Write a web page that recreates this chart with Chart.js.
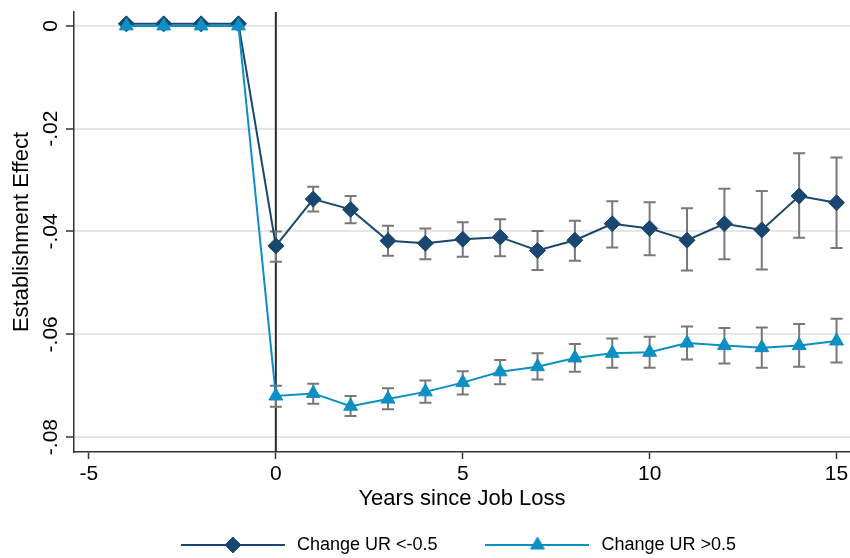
<!DOCTYPE html>
<html>
<head>
<meta charset="utf-8">
<script src="https://cdn.jsdelivr.net/npm/chart.js@4.4.1/dist/chart.umd.min.js"></script>
<style>
    html, body { margin: 0; padding: 0; background: #fff; }
    #wrap { width: 850px; height: 558px; position: relative; }
</style>
</head>
<body>
<div id="wrap"><canvas id="chart"></canvas></div>
<script>
// years since job loss
var years = [-4, -3, -2, -1, 0, 1, 2, 3, 4, 5, 6, 7, 8, 9, 10, 11, 12, 13, 14, 15];

// Change UR <-0.5 : estimate and 95% band
var lowEst = [0.0004, 0.0004, 0.0004, 0.0004, -0.0428, -0.0337, -0.0357, -0.0418, -0.0423, -0.0415,
    -0.0411, -0.0437, -0.0417, -0.0385, -0.0394, -0.0417, -0.0385, -0.0397, -0.0331, -0.0344];
var lowHi = [null, null, null, null, -0.0400, -0.0313, -0.0331, -0.0389, -0.0394, -0.0382,
    -0.0376, -0.0399, -0.0379, -0.0341, -0.0343, -0.0355, -0.0317, -0.0321, -0.0248, -0.0256];
var lowLo = [null, null, null, null, -0.0459, -0.0361, -0.0384, -0.0447, -0.0454, -0.0449,
    -0.0448, -0.0475, -0.0457, -0.0431, -0.0446, -0.0476, -0.0454, -0.0474, -0.0412, -0.0432];

// Change UR >0.5 : estimate and 95% band
var highEst = [0, 0, 0, 0, -0.0720, -0.0715, -0.0740, -0.0726, -0.0712, -0.0694,
    -0.0673, -0.0663, -0.0646, -0.0637, -0.0635, -0.0617, -0.0622, -0.0626, -0.0622, -0.0613];
var highHi = [null, null, null, null, -0.0700, -0.0696, -0.0720, -0.0705, -0.0690, -0.0672,
    -0.0650, -0.0637, -0.0619, -0.0608, -0.0605, -0.0585, -0.0588, -0.0587, -0.0580, -0.0570];
var highLo = [null, null, null, null, -0.0741, -0.0735, -0.0759, -0.0746, -0.0733, -0.0717,
    -0.0697, -0.0688, -0.0673, -0.0665, -0.0665, -0.0649, -0.0657, -0.0665, -0.0663, -0.0655];

// axes
var xTicks = [-5, 0, 5, 10, 15];
var yTicks = [0, -0.02, -0.04, -0.06, -0.08];
var yTickLabels = ['0', '-.02', '-.04', '-.06', '-.08'];
var eventYear = 0;

var navy = '#1a476f';
var sky = '#0c8fc3';
var font = '"Liberation Sans", Arial, sans-serif';

Chart.defaults.font.family = font;
Chart.defaults.color = '#000';

function points(vals) {
    return years.map(function (x, i) { return { x: x, y: vals[i] }; });
}

// little line+marker picture for the legend
function legendSwatch(color, style, r) {
    var c = document.createElement('canvas');
    c.width = 104;
    c.height = 20;
    var g = c.getContext('2d');
    g.strokeStyle = color;
    g.fillStyle = color;
    g.lineWidth = 2;
    g.beginPath();
    g.moveTo(0, 10);
    g.lineTo(104, 10);
    g.stroke();
    g.lineWidth = 1;
    Chart.helpers.drawPoint(g, { pointStyle: style, radius: r, borderWidth: 1 }, 52, 10);
    return c;
}

// vertical line at the job loss year
var refLine = {
    id: 'refLine',
    beforeDatasetsDraw: function (chart) {
        var ctx = chart.ctx, area = chart.chartArea;
        var px = chart.scales.x.getPixelForValue(eventYear);
        ctx.save();
        ctx.strokeStyle = '#2b2b2b';
        ctx.lineWidth = 2;
        ctx.beginPath();
        ctx.moveTo(px, area.top);
        ctx.lineTo(px, area.bottom);
        ctx.stroke();
        ctx.restore();
    }
};

// capped confidence bars
var errorBars = {
    id: 'errorBars',
    beforeDatasetsDraw: function (chart) {
        var ctx = chart.ctx, xs = chart.scales.x, ys = chart.scales.y;
        ctx.save();
        ctx.strokeStyle = '#787878';
        ctx.lineWidth = 2;
        chart.data.datasets.forEach(function (ds) {
            ds.errLo.forEach(function (lo, i) {
                var hi = ds.errHi[i];
                if (lo === null || hi === null) return;
                var px = xs.getPixelForValue(years[i]);
                var y1 = ys.getPixelForValue(lo), y2 = ys.getPixelForValue(hi);
                ctx.beginPath();
                ctx.moveTo(px, y1); ctx.lineTo(px, y2);
                ctx.moveTo(px - 6, y1); ctx.lineTo(px + 6, y1);
                ctx.moveTo(px - 6, y2); ctx.lineTo(px + 6, y2);
                ctx.stroke();
            });
        });
        ctx.restore();
    }
};

// legend sits centred under the plot region, a bit lower
var legendPlace = {
    id: 'legendPlace',
    afterLayout: function (chart) {
        var lg = chart.legend;
        lg.left = chart.chartArea.left - 10;
        lg.top -= 21;
    }
};

var ctx = document.getElementById('chart').getContext('2d');
var myChart = new Chart(ctx, {
    type: 'line',
    data: {
        datasets: [{
            label: 'Change UR <-0.5',
            data: points(lowEst),
            errLo: lowLo,
            errHi: lowHi,
            borderColor: navy,
            backgroundColor: navy,
            borderWidth: 2,
            pointStyle: 'rectRot',
            pointRadius: 8,
            pointBorderWidth: 1,
            order: 2
        }, {
            label: 'Change UR >0.5',
            data: points(highEst),
            errLo: highLo,
            errHi: highHi,
            borderColor: sky,
            backgroundColor: sky,
            borderWidth: 2,
            pointStyle: 'triangle',
            pointRadius: 8,
            pointBorderWidth: 1,
            order: 1
        }]
    },
    options: {
        responsive: true,
        maintainAspectRatio: false,
        animation: false,
        layout: {
            autoPadding: false,
            padding: { top: 12, right: 0, bottom: 0, left: 0 }
        },
        plugins: {
            tooltip: { enabled: false },
            legend: {
                position: 'bottom',
                maxHeight: 46,
                labels: {
                    usePointStyle: true,
                    pointStyleWidth: 110,
                    padding: 45,
                    font: { size: 18 },
                    color: '#000',
                    generateLabels: function (chart) {
                        return chart.data.datasets.map(function (ds, i) {
                            return {
                                text: ds.label,
                                datasetIndex: i,
                                pointStyle: legendSwatch(ds.borderColor, ds.pointStyle, ds.pointRadius),
                                fillStyle: ds.backgroundColor,
                                strokeStyle: ds.borderColor,
                                lineWidth: 0,
                                hidden: false
                            };
                        });
                    }
                }
            }
        },
        scales: {
            x: {
                type: 'linear',
                min: -5.4,
                max: 15.36,
                afterBuildTicks: function (scale) {
                    scale.ticks = xTicks.map(function (v) { return { value: v }; });
                },
                afterFit: function (scale) {
                    scale.height = 60;
                    scale.paddingLeft = 0;
                    scale.paddingRight = 0;
                },
                ticks: {
                    font: { size: 21 },
                    color: '#000',
                    padding: 3,
                    maxRotation: 0,
                    callback: function (v) { return String(v); }
                },
                grid: {
                    drawOnChartArea: false,
                    drawTicks: true,
                    tickLength: 7,
                    tickColor: '#333',
                    tickWidth: 1.5
                },
                border: { color: '#333', width: 1.5 },
                title: {
                    display: true,
                    text: 'Years since Job Loss',
                    font: { size: 22 },
                    color: '#000',
                    padding: { top: 0, bottom: 0 }
                }
            },
            y: {
                min: -0.0829,
                max: 0.0027,
                afterBuildTicks: function (scale) {
                    scale.ticks = yTicks.map(function (v) { return { value: v }; });
                },
                afterFit: function (scale) { scale.width = 74; },
                ticks: {
                    font: { size: 21 },
                    color: '#000',
                    padding: -3,
                    minRotation: 90,
                    maxRotation: 90,
                    crossAlign: 'center',
                    callback: function (v) {
                        var k = yTicks.indexOf(v);
                        return k >= 0 ? yTickLabels[k] : '';
                    }
                },
                grid: {
                    color: '#e6e6e6',
                    lineWidth: 2,
                    tickLength: 8,
                    tickColor: '#333',
                    tickWidth: 1.5
                },
                border: { color: '#333', width: 1.5 },
                title: {
                    display: true,
                    text: 'Establishment Effect',
                    font: { size: 22 },
                    color: '#000',
                    padding: { top: 9, bottom: 0 }
                }
            }
        }
    },
    plugins: [refLine, errorBars, legendPlace]
});
</script>
</body>
</html>
